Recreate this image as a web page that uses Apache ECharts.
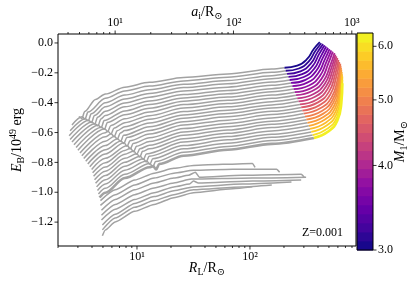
<!DOCTYPE html>
<html><head><meta charset="utf-8">
<script src="https://cdn.jsdelivr.net/npm/echarts@6/dist/echarts.min.js"></script>
<style>html,body{margin:0;padding:0;background:#fff;}#c{width:415px;height:282px;}</style>
</head><body><div id="c"></div>
<script>
const FONT = '"Liberation Serif", "DejaVu Serif", serif';
const GRAY = '#a2a2a2';

// initial mass of each coloured track (top / least bound first)
const masses = [3.05,3.14,3.24,3.34,3.44,3.55,3.66,3.78,3.89,4.02,4.14,4.27,4.40,4.54,4.68,4.83,4.98,5.13,5.29,5.46,5.63,5.80,5.99,6.17];

// grey (early) parts of the tracks: [R_L/Rsun, E_B/1e49 erg]
const grayTracks = [
 [[3.06,-0.493],[3.25,-0.506],[3.45,-0.459],[4.3,-0.378],[5.25,-0.342],[7.8,-0.296],[12.9,-0.264],[25.9,-0.231],[63.6,-0.208],[156,-0.175],[202,-0.166]],
 [[2.66,-0.549],[3.26,-0.495],[3.47,-0.509],[3.68,-0.463],[5.25,-0.371],[7.8,-0.322],[12.9,-0.289],[25.9,-0.254],[63.6,-0.230],[156,-0.197],[207,-0.186]],
 [[2.56,-0.588],[3.49,-0.507],[3.71,-0.521],[3.93,-0.475],[5.25,-0.400],[7.8,-0.349],[12.9,-0.313],[25.9,-0.277],[63.6,-0.252],[156,-0.219],[213,-0.207]],
 [[2.51,-0.622],[3.72,-0.518],[3.96,-0.532],[4.20,-0.486],[5.25,-0.428],[7.8,-0.375],[12.9,-0.338],[25.9,-0.299],[63.6,-0.274],[156,-0.240],[219,-0.227]],
 [[2.56,-0.646],[3.98,-0.529],[4.23,-0.543],[4.48,-0.497],[5.25,-0.457],[7.8,-0.402],[12.9,-0.363],[25.9,-0.322],[63.6,-0.296],[156,-0.262],[224,-0.248]],
 [[2.66,-0.664],[4.25,-0.541],[4.52,-0.555],[4.79,-0.509],[5.25,-0.486],[7.8,-0.428],[12.9,-0.388],[25.9,-0.345],[63.6,-0.318],[156,-0.284],[231,-0.268]],
 [[2.77,-0.682],[4.54,-0.552],[4.83,-0.566],[5.12,-0.520],[7.8,-0.455],[12.9,-0.412],[25.9,-0.368],[63.6,-0.340],[156,-0.306],[237,-0.289]],
 [[2.89,-0.700],[4.85,-0.564],[5.16,-0.578],[5.47,-0.532],[7.8,-0.481],[12.9,-0.437],[25.9,-0.390],[63.6,-0.362],[156,-0.327],[243,-0.309]],
 [[3.00,-0.719],[5.18,-0.574],[5.51,-0.594],[5.84,-0.554],[7.8,-0.508],[12.9,-0.462],[25.9,-0.413],[63.6,-0.384],[156,-0.349],[249,-0.330]],
 [[3.13,-0.737],[5.25,-0.601],[5.54,-0.591],[5.89,-0.611],[6.24,-0.571],[7.8,-0.534],[12.9,-0.487],[25.9,-0.436],[63.6,-0.406],[156,-0.371],[256,-0.350]],
 [[3.25,-0.755],[5.25,-0.629],[5.91,-0.608],[6.29,-0.628],[6.67,-0.588],[7.8,-0.561],[12.9,-0.511],[25.9,-0.459],[63.6,-0.428],[156,-0.393],[262,-0.371]],
 [[3.38,-0.774],[5.25,-0.658],[6.31,-0.625],[6.71,-0.644],[7.11,-0.603],[7.8,-0.587],[12.9,-0.536],[25.9,-0.482],[63.6,-0.450],[156,-0.415],[269,-0.391]],
 [[3.52,-0.792],[5.25,-0.687],[6.74,-0.641],[7.17,-0.660],[7.60,-0.619],[12.9,-0.561],[25.9,-0.504],[63.6,-0.472],[156,-0.436],[277,-0.412]],
 [[3.67,-0.810],[5.25,-0.716],[7.20,-0.656],[7.66,-0.674],[8.12,-0.633],[12.9,-0.586],[25.9,-0.527],[63.6,-0.495],[156,-0.458],[284,-0.432]],
 [[3.82,-0.829],[5.25,-0.744],[7.69,-0.669],[8.18,-0.692],[8.67,-0.655],[12.9,-0.610],[25.9,-0.550],[63.6,-0.517],[156,-0.480],[291,-0.453]],
 [[3.97,-0.847],[5.25,-0.773],[8.21,-0.687],[8.73,-0.710],[9.25,-0.673],[12.9,-0.635],[25.9,-0.573],[63.6,-0.539],[156,-0.502],[299,-0.473]],
 [[4.05,-0.870],[5.25,-0.802],[7.8,-0.720],[8.77,-0.706],[9.33,-0.729],[9.89,-0.692],[12.9,-0.660],[25.9,-0.596],[63.6,-0.561],[156,-0.524],[307,-0.494]],
 [[4.13,-0.893],[5.25,-0.831],[7.8,-0.746],[9.36,-0.723],[9.96,-0.746],[10.6,-0.709],[12.9,-0.685],[25.9,-0.618],[63.6,-0.583],[156,-0.545],[315,-0.514]],
 [[4.21,-0.917],[5.25,-0.859],[7.8,-0.773],[9.96,-0.742],[10.6,-0.764],[11.2,-0.726],[12.9,-0.709],[25.9,-0.641],[63.6,-0.605],[156,-0.567],[323,-0.535]],
 [[4.30,-0.940],[5.25,-0.888],[7.8,-0.799],[10.7,-0.759],[11.4,-0.781],[12.1,-0.743],[25.9,-0.664],[63.6,-0.627],[156,-0.589],[332,-0.555]],
 [[4.39,-0.964],[5.25,-0.917],[7.8,-0.826],[11.4,-0.775],[12.1,-0.797],[12.8,-0.759],[25.9,-0.687],[63.6,-0.649],[156,-0.611],[340,-0.576]],
 [[4.47,-0.988],[5.25,-0.945],[7.8,-0.852],[12.2,-0.791],[13.0,-0.813],[13.8,-0.775],[25.9,-0.709],[63.6,-0.671],[156,-0.632],[349,-0.596]],
 [[4.56,-1.011],[5.25,-0.974],[7.8,-0.879],[13.0,-0.807],[13.8,-0.830],[14.6,-0.794],[25.9,-0.732],[63.6,-0.693],[156,-0.654],[359,-0.617]],
 [[4.66,-1.035],[5.25,-1.003],[7.8,-0.905],[12.9,-0.833],[13.9,-0.825],[14.8,-0.848],[15.7,-0.811],[25.9,-0.755],[63.6,-0.715],[156,-0.676],[368,-0.637]]
];

// coloured (late) parts of the same tracks
const colorTracks = [
 [[202,-0.166],[262,-0.152],[321,-0.107],[367,-0.041],[415,0.005]],
 [[207,-0.186],[271,-0.171],[332,-0.123],[380,-0.052],[428,-0.002]],
 [[213,-0.207],[280,-0.190],[345,-0.139],[395,-0.063],[444,-0.008]],
 [[219,-0.227],[290,-0.209],[358,-0.155],[409,-0.075],[458,-0.015]],
 [[224,-0.248],[300,-0.228],[371,-0.172],[425,-0.088],[473,-0.024]],
 [[231,-0.268],[310,-0.247],[385,-0.188],[441,-0.100],[490,-0.032]],
 [[237,-0.289],[321,-0.266],[400,-0.205],[458,-0.114],[506,-0.041]],
 [[243,-0.309],[333,-0.285],[415,-0.222],[475,-0.127],[524,-0.050]],
 [[249,-0.330],[344,-0.304],[431,-0.239],[492,-0.140],[541,-0.058]],
 [[256,-0.350],[356,-0.322],[448,-0.255],[512,-0.153],[560,-0.067]],
 [[262,-0.371],[366,-0.342],[460,-0.273],[525,-0.169],[571,-0.078]],
 [[269,-0.391],[377,-0.360],[473,-0.290],[538,-0.184],[582,-0.089]],
 [[277,-0.412],[388,-0.380],[486,-0.308],[552,-0.199],[594,-0.100]],
 [[284,-0.432],[400,-0.398],[501,-0.326],[566,-0.215],[607,-0.113]],
 [[291,-0.453],[410,-0.418],[514,-0.345],[579,-0.232],[618,-0.126]],
 [[299,-0.473],[423,-0.436],[529,-0.363],[594,-0.249],[631,-0.139]],
 [[307,-0.494],[433,-0.456],[538,-0.382],[603,-0.266],[635,-0.152]],
 [[315,-0.514],[442,-0.475],[547,-0.400],[610,-0.283],[640,-0.166]],
 [[323,-0.535],[451,-0.494],[557,-0.419],[618,-0.300],[644,-0.179]],
 [[332,-0.555],[461,-0.513],[566,-0.438],[625,-0.318],[649,-0.194]],
 [[340,-0.576],[471,-0.532],[574,-0.458],[632,-0.337],[652,-0.210]],
 [[349,-0.596],[481,-0.551],[583,-0.477],[639,-0.356],[657,-0.225]],
 [[359,-0.617],[489,-0.572],[589,-0.499],[643,-0.379],[657,-0.248]],
 [[368,-0.637],[497,-0.591],[594,-0.519],[644,-0.401],[657,-0.270]]
];

// lower grey tracks that end in the horizontal bundle
const lowerTracks = [
 [[4.75,-1.056],[6.41,-0.984],[9.55,-0.918],[14.2,-0.872],[21.2,-0.840],[31.6,-0.820],[57.5,-0.813],[105,-0.807],[111,-0.833]],
 [[4.75,-1.088],[6.41,-1.016],[9.55,-0.951],[14.2,-0.905],[21.2,-0.872],[31.6,-0.853],[70.3,-0.846],[172,-0.846],[183,-0.866]],
 [[4.85,-1.121],[6.41,-1.049],[9.55,-0.984],[14.2,-0.938],[21.2,-0.905],[28.6,-0.886],[32.9,-0.866],[35.6,-0.899],[85.8,-0.886],[284,-0.879],[302,-0.899]],
 [[4.85,-1.154],[6.41,-1.082],[9.55,-1.016],[14.2,-0.971],[21.2,-0.938],[30.4,-0.912],[105,-0.905],[314,-0.899]],
 [[4.85,-1.186],[6.41,-1.114],[9.55,-1.049],[14.2,-1.003],[21.2,-0.964],[29.2,-0.945],[31.6,-0.925],[34.9,-0.938],[105,-0.925],[284,-0.918]],
 [[4.94,-1.219],[6.41,-1.147],[9.55,-1.075],[14.2,-1.029],[21.2,-0.990],[31.6,-0.964],[85.8,-0.945],[233,-0.931]],
 [[4.94,-1.252],[6.41,-1.173],[9.55,-1.101],[14.2,-1.056],[21.2,-1.016],[31.6,-0.984],[85.8,-0.964],[156,-0.951]],
 [[4.94,-1.291],[5.25,-1.252],[6.41,-1.199],[9.55,-1.128],[14.2,-1.082],[21.2,-1.036],[31.6,-1.003],[70.3,-0.977],[105,-0.964]]
];

// colour bar band edges (log-spaced) and ticks
const cbEdges = [3.000,3.094,3.190,3.290,3.393,3.499,3.608,3.721,3.837,3.957,4.080,4.208,4.339,4.475,4.615,4.759,4.908,5.061,5.219,5.383,5.551,5.724,5.903,6.088,6.278];
const cbTicks = [3,4,5,6];
const cbTickLabels = ['3.0','4.0','5.0','6.0'];
const yTicks = [-1.2,-1.0,-0.8,-0.6,-0.4,-0.2,0.0];
const yTickLabels = ['\u22121.2','\u22121.0','\u22120.8','\u22120.6','\u22120.4','\u22120.2','0.0'];
const rlMajor = [10,100];
const rlMajorLabels = ['10\u00b9','10\u00b2'];
const rlMinor = [2,3,4,5,6,7,8,9,20,30,40,50,60,70,80,90,200,300,400,500,600,700,800];
const aMajor = [10,100,1000];
const aMajorLabels = ['10\u00b9','10\u00b2','10\u00b3'];
const aMinor = [4,5,6,7,8,9,20,30,40,50,60,70,80,90,200,300,400,500,600,700,800,900];

const PL = [[13,8,135],[65,4,157],[106,0,168],[143,13,164],[177,42,144],[204,71,120],[225,100,98],[242,132,75],[252,166,54],[252,206,37],[240,249,33]];
function plasma(t){t=Math.max(0,Math.min(1,t));const s=t*10;const k=Math.min(9,Math.floor(s));const f=s-k;const a=PL[k],b=PL[k+1];
 return 'rgb('+Math.round(a[0]+(b[0]-a[0])*f)+','+Math.round(a[1]+(b[1]-a[1])*f)+','+Math.round(a[2]+(b[2]-a[2])*f)+')';}
const M0 = cbEdges[0], M1 = cbEdges[cbEdges.length-1];
function massT(m){return Math.log(m/M0)/Math.log(M1/M0);}

const nameRich = {
  i:{fontFamily:FONT,fontStyle:'italic',fontSize:14,lineHeight:18,color:'#000'},
  n:{fontFamily:FONT,fontSize:14,lineHeight:18,color:'#000'},
  b:{fontFamily:FONT,fontSize:10,lineHeight:10,verticalAlign:'bottom',color:'#000'},
  p:{fontFamily:FONT,fontSize:10,lineHeight:10,verticalAlign:'top',color:'#000'}
};
const hidden = {axisLine:{show:false},axisTick:{show:false},axisLabel:{show:false},splitLine:{show:false}};

const series = [];
grayTracks.forEach((d,i)=>series.push({type:'line',data:d,xAxisIndex:0,yAxisIndex:0,symbol:'none',smooth:0.3,smoothMonotone:'x',silent:true,z:2,
  lineStyle:{color:GRAY,width:i===23?2.6:1.5}}));
lowerTracks.forEach(d=>series.push({type:'line',data:d,xAxisIndex:0,yAxisIndex:0,symbol:'none',smooth:0.2,smoothMonotone:'x',silent:true,z:2,
  lineStyle:{color:GRAY,width:1.5}}));
colorTracks.forEach((d,i)=>series.push({type:'line',data:d,xAxisIndex:0,yAxisIndex:0,symbol:'none',smooth:0.5,silent:true,z:3,
  lineStyle:{color:plasma(massT(masses[i])),width:i===23?2.6:1.8}}));

function tickSeries(xi, vals, majorCount, labels, top){
  return {type:'custom',xAxisIndex:xi,yAxisIndex:0,silent:true,z:6,clip:false,
    data: vals.map((v,k)=>[v,0,k<majorCount?1:0]),
    renderItem:(params,api)=>{
      const cs=params.coordSys; const x=api.coord([api.value(0),0])[0];
      const major=api.value(2)===1; const len=major?3.5:2;
      const ye = top?cs.y:cs.y+cs.height; const dir = top?-1:1;
      const ch=[{type:'line',shape:{x1:x,y1:ye,x2:x,y2:ye+dir*len},style:{stroke:'#000',lineWidth:0.8}}];
      if(major) ch.push({type:'text',x:x,y:ye+dir*5,style:{text:labels[params.dataIndex],fill:'#000',font:'12px '+FONT,align:'center',verticalAlign:top?'bottom':'top'}});
      return {type:'group',children:ch};
    }};
}
series.push(tickSeries(0, rlMajor.concat(rlMinor), rlMajor.length, rlMajorLabels, false));
series.push(tickSeries(1, aMajor.concat(aMinor), aMajor.length, aMajorLabels, true));
series.push({type:'custom',xAxisIndex:0,yAxisIndex:0,silent:true,z:6,clip:false,
  data:yTicks.map(v=>[10,v]),
  renderItem:(params,api)=>{const cs=params.coordSys;const y=api.coord([10,api.value(1)])[1];
    return {type:'group',children:[
      {type:'line',shape:{x1:cs.x,y1:y,x2:cs.x-3.5,y2:y},style:{stroke:'#000',lineWidth:0.8}},
      {type:'text',x:cs.x-5,y:y,style:{text:yTickLabels[params.dataIndex],fill:'#000',font:'12px '+FONT,align:'right',verticalAlign:'middle'}}]};}});
// colour bar
series.push({type:'custom',xAxisIndex:2,yAxisIndex:1,silent:true,z:2,clip:false,
  data:cbEdges.slice(0,-1).map((lo,k)=>[0,lo,cbEdges[k+1]]),
  renderItem:(params,api)=>{const p0=api.coord([0,api.value(1)]);const p1=api.coord([1,api.value(2)]);
    const mid=Math.sqrt(api.value(1)*api.value(2));
    return {type:'rect',shape:{x:p0[0],y:p1[1],width:p1[0]-p0[0],height:p0[1]-p1[1]+0.5},style:{fill:plasma(massT(mid))}};}});
series.push({type:'custom',xAxisIndex:2,yAxisIndex:1,silent:true,z:6,clip:false,
  data:cbTicks.map(v=>[0,v]),
  renderItem:(params,api)=>{const cs=params.coordSys;const y=api.coord([0,api.value(1)])[1];const xr=cs.x+cs.width;
    const ch=[{type:'line',shape:{x1:xr,y1:y,x2:xr+3.5,y2:y},style:{stroke:'#000',lineWidth:0.8}},
      {type:'text',x:xr+5,y:y,style:{text:cbTickLabels[params.dataIndex],fill:'#000',font:'12px '+FONT,align:'left',verticalAlign:'middle'}}];
    if(params.dataIndex===0) ch.push({type:'rect',shape:{x:cs.x,y:cs.y,width:cs.width,height:cs.height},style:{fill:null,stroke:'#000',lineWidth:1}});
    return {type:'group',children:ch};}});

const option = {
  animation:false,
  backgroundColor:'#fff',
  grid:[
    {left:52,top:33,width:304,height:217,show:true,borderColor:'#000',borderWidth:1,backgroundColor:'transparent'},
    {left:357,top:33,width:16,height:217}
  ],
  xAxis:[
    Object.assign({gridIndex:0,type:'log',logBase:10,min:2.0,max:868,position:'bottom',
      name:'{i|R}{b|L}{n|/R}{b|\u2299}',nameLocation:'middle',nameGap:13,nameTextStyle:{rich:nameRich}},hidden),
    Object.assign({gridIndex:0,type:'log',logBase:10,min:3.29,max:1085,position:'top',
      name:'{i|a}{b|i}{n|/R}{b|\u2299}',nameLocation:'middle',nameGap:13,nameTextStyle:{rich:nameRich}},hidden),
    Object.assign({gridIndex:1,type:'value',min:0,max:1,show:false},hidden)
  ],
  yAxis:[
    Object.assign({gridIndex:0,type:'value',min:-1.36,max:0.06,
      name:'{i|E}{b|B}{n|/10}{p|49}{n| erg}',nameLocation:'middle',nameGap:32,nameRotate:90,nameTextStyle:{rich:nameRich}},hidden),
    Object.assign({gridIndex:1,type:'log',logBase:10,min:3,max:6.278,position:'right',
      name:'{i|M}{b|1}{n|/M}{b|\u2299}',nameLocation:'middle',nameGap:18,nameRotate:90,nameTextStyle:{rich:nameRich}},hidden)
  ],
  graphic:[{type:'text',right:72,top:227,style:{text:'Z=0.001',fill:'#000',font:'12px '+FONT}}],
  series:series
};
const chart = echarts.init(document.getElementById('c'),null,{renderer:'canvas',width:415,height:282});
chart.setOption(option);
</script>
</body></html>
